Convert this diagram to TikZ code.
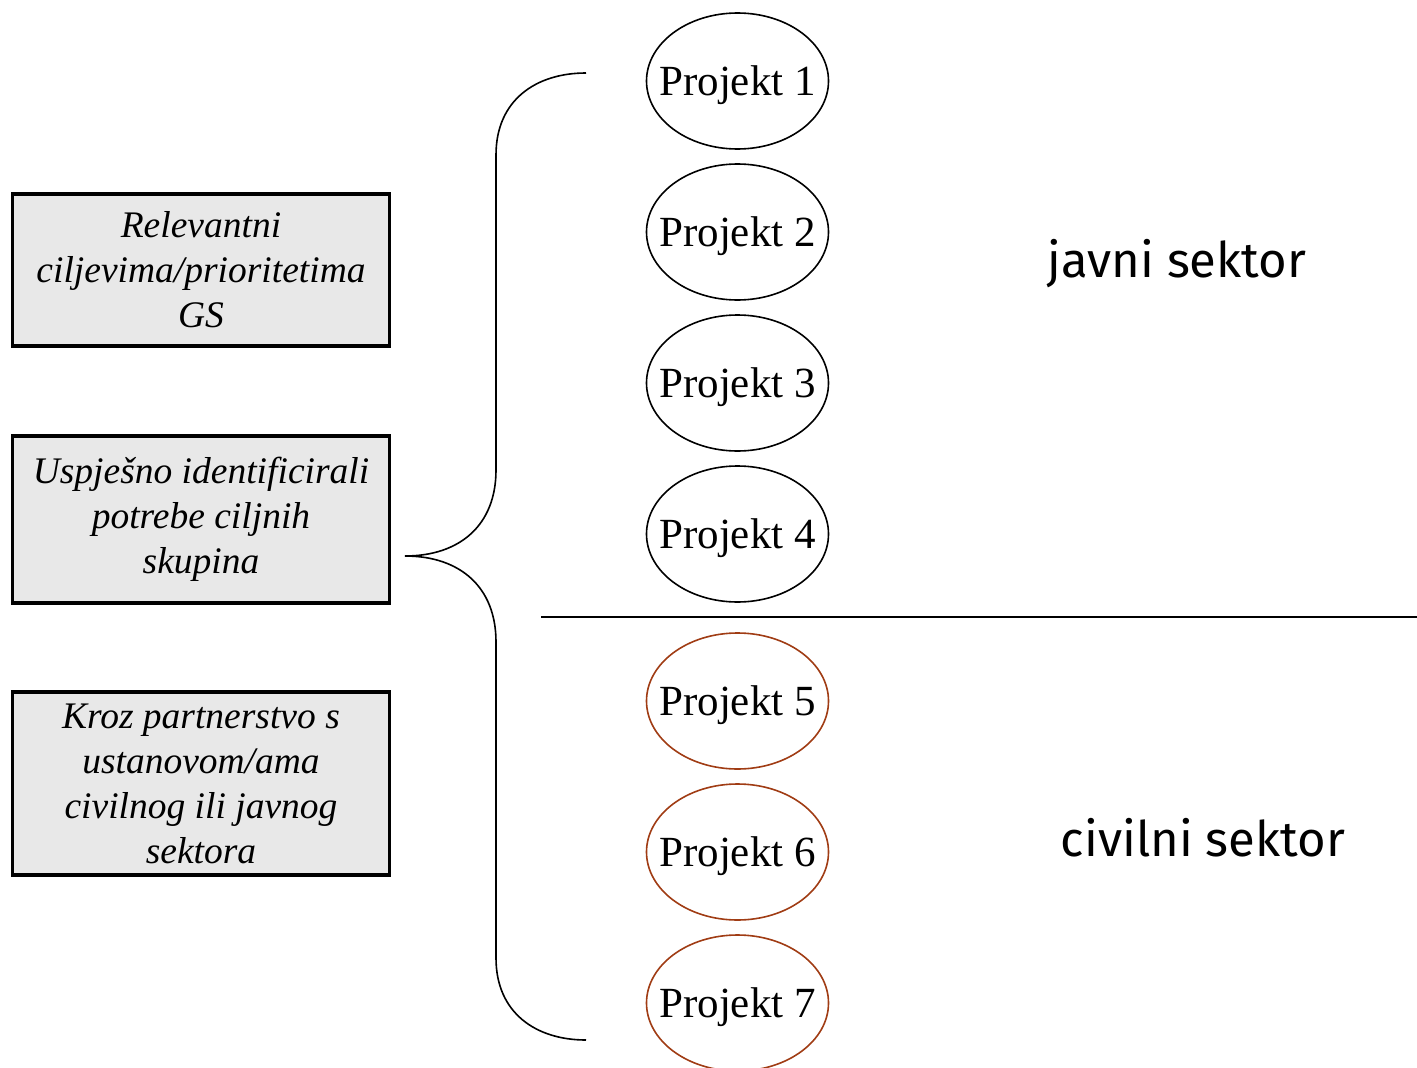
\documentclass[tikz,border=0pt]{standalone}
\usepackage{fontspec}
\setmainfont{Liberation Serif}
\newfontfamily\sektorfont{Fira Sans}
\usetikzlibrary{shapes.geometric}
\definecolor{boxgray}{RGB}{232,232,232}
\definecolor{civbrown}{RGB}{160,60,20}
\tikzset{
  goalbox/.style={draw=black, line width=3.4pt, fill=boxgray, minimum width=377pt, inner sep=0pt, align=center,
    font=\fontsize{37.5}{45}\selectfont\itshape},
  projell/.style={ellipse, draw=black, line width=1.6pt, minimum width=182pt, minimum height=136pt,
    inner xsep=-14pt, inner ysep=0pt, text depth=0pt, font=\fontsize{43}{48}\selectfont},
  civell/.style={projell, draw=civbrown},
  sektor/.style={font=\sektorfont\fontsize{49}{55}\selectfont},
}
\begin{document}
\begin{tikzpicture}[x=1pt,y=-1pt]
\useasboundingbox (0,0) rectangle (1417,1068);
% goal boxes
\node[goalbox, minimum height=152pt] (g1) at (201,270) {Relevantni\\ciljevima/prioritetima\\GS};
\node[goalbox, minimum height=167pt] (g2) at (201,519.5) {Uspješno identificirali\\potrebe ciljnih\\skupina};
\node[goalbox, minimum height=183pt] (g3) at (201,783.5) {Kroz partnerstvo s\\ustanovom/ama\\civilnog ili javnog\\sektora};
% projects
\node[projell] (p1) at (737.5,81) {Projekt 1};
\node[projell] (p2) at (737.5,232) {Projekt 2};
\node[projell] (p3) at (737.5,383) {Projekt 3};
\node[projell] (p4) at (737.5,534) {Projekt 4};
\node[civell] (p5) at (737.5,701) {Projekt 5};
\node[civell] (p6) at (737.5,852) {Projekt 6};
\node[civell] (p7) at (737.5,1003) {Projekt 7};
% brace
\coordinate (btop) at (586,73);
\coordinate (btip) at (405,556);
\coordinate (bbot) at (586,1040);
\draw[line width=1.6pt] (btop) .. controls (536,73) and (496,100) .. (496,155)
  -- (496,470) .. controls (496,525) and (460,556) .. (btip)
  .. controls (460,556) and (496,587) .. (496,642)
  -- (496,958) .. controls (496,1013) and (536,1040) .. (bbot);
% divider
\coordinate (dl) at (541,617);
\coordinate (dr) at (1417,617);
\draw[line width=1.4pt] (dl) -- (dr);
% sector labels
\node[sektor] (js) at (1177,264) {javni sektor};
\node[sektor] (cs) at (1203,838) {civilni sektor};
\end{tikzpicture}
\end{document}
